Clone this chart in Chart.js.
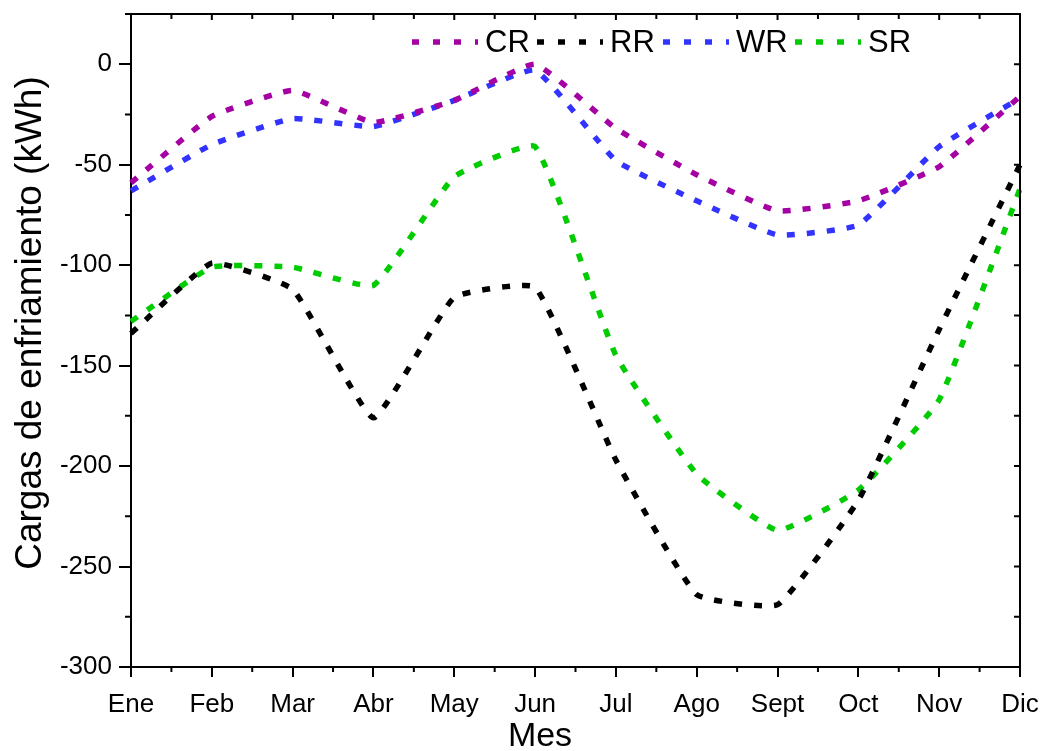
<!DOCTYPE html>
<html>
<head>
<meta charset="utf-8">
<script src="https://cdn.jsdelivr.net/npm/chart.js@4"></script>
<style>
  html, body { margin: 0; padding: 0; background: #fff; }
  #wrap { width: 1043px; height: 751px; }
</style>
</head>
<body>
<div id="wrap"><canvas id="chart" width="1043" height="751"></canvas></div>
<script>
// month labels
const meses = ['Ene', 'Feb', 'Mar', 'Abr', 'May', 'Jun', 'Jul', 'Ago', 'Sept', 'Oct', 'Nov', 'Dic'];

// cooling loads (kWh)
const crValues = [-59, -26, -13, -29, -18, 0, -32, -55, -73, -68, -51, -16];
const rrValues = [-134, -99, -112, -176, -116, -111, -197, -264, -269, -217, -132, -50];
const wrValues = [-63, -40, -27, -31, -18, -3, -48, -68, -85, -80, -41, -17];
const srValues = [-128, -101, -101, -110, -56, -41, -145, -204, -232, -212, -167, -62];

const yTicks = [-300, -250, -200, -150, -100, -50, 0];

const FONT = "'Liberation Sans', Arial, sans-serif";

function serie(label, data, color) {
  return {
    label, data,
    borderColor: color,
    backgroundColor: color,
    borderWidth: 5.5,
    borderDash: [8, 12],
    borderCapStyle: 'butt',
    pointRadius: 0,
    tension: 0.12,
    fill: false
  };
}

// frame, mirror ticks, minor ticks and axis titles
const frame = {
  id: 'frame',
  afterDraw(chart) {
    const { ctx, chartArea: a, scales } = chart;
    const x = scales.x, y = scales.y;
    ctx.save();
    ctx.strokeStyle = '#000';
    ctx.lineWidth = 2;
    ctx.beginPath();
    ctx.moveTo(a.left, a.top);
    ctx.lineTo(a.right, a.top);
    ctx.lineTo(a.right, a.bottom);
    ctx.stroke();

    ctx.beginPath();
    for (let v = 25; v >= -300; v -= 25) {
      const py = y.getPixelForValue(v);
      if (v % 50 !== 0) {
        ctx.moveTo(a.left - 6, py);
        ctx.lineTo(a.left, py);
      }
      ctx.moveTo(a.right, py);
      ctx.lineTo(a.right - 6, py);
    }
    for (let i = 0; i < meses.length; i++) {
      const px = x.getPixelForValue(i);
      ctx.moveTo(px, a.top);
      ctx.lineTo(px, a.top + 6);
      if (i < meses.length - 1) {
        const mx = (px + x.getPixelForValue(i + 1)) / 2;
        ctx.moveTo(mx, a.top);
        ctx.lineTo(mx, a.top + 5);
        ctx.moveTo(mx, a.bottom);
        ctx.lineTo(mx, a.bottom + 5);
      }
    }
    ctx.stroke();

    ctx.fillStyle = '#000';
    ctx.textAlign = 'center';
    ctx.textBaseline = 'middle';
    ctx.font = '34px ' + FONT;
    ctx.fillText('Mes', 540, 737);
    ctx.translate(31, 323);
    ctx.rotate(-Math.PI / 2);
    ctx.font = '37px ' + FONT;
    ctx.fillText('Cargas de enfriamiento (kWh)', 0, 0);
    ctx.restore();
  }
};

// legend drawn inside the plot, top right
const legendInside = {
  id: 'legendInside',
  afterDraw(chart) {
    const { ctx, chartArea: a } = chart;
    const starts = [412, 537, 663, 795];
    const ly = a.top + 28;
    ctx.save();
    ctx.font = '31px ' + FONT;
    ctx.textBaseline = 'middle';
    chart.data.datasets.forEach((ds, i) => {
      const x0 = starts[i];
      ctx.strokeStyle = ds.borderColor;
      ctx.lineWidth = 5.5;
      ctx.setLineDash([7, 14]);
      ctx.beginPath();
      ctx.moveTo(x0, ly);
      ctx.lineTo(x0 + 66, ly);
      ctx.stroke();
      ctx.setLineDash([]);
      ctx.fillStyle = '#000';
      ctx.fillText(ds.label, x0 + 73, ly + 1);
    });
    ctx.restore();
  }
};

new Chart(document.getElementById('chart'), {
  type: 'line',
  data: {
    labels: meses,
    datasets: [
      serie('CR', crValues, '#A400A4'),
      serie('RR', rrValues, '#000000'),
      serie('WR', wrValues, '#3333FF'),
      serie('SR', srValues, '#00CC00')
    ]
  },
  options: {
    responsive: false,
    animation: false,
    layout: { padding: { top: 14, right: 23, left: 0, bottom: 0 } },
    plugins: {
      legend: { display: false },
      tooltip: { enabled: false }
    },
    scales: {
      x: {
        offset: false,
        grid: { drawOnChartArea: false, tickLength: 10, color: '#000', lineWidth: 2 },
        border: { color: '#000', width: 2 },
        ticks: { color: '#000', font: { family: FONT, size: 26 }, padding: 12, maxRotation: 0, autoSkip: false },
        afterFit(s) { s.height = 84; s.paddingLeft = 0; s.paddingRight = 0; }
      },
      y: {
        min: -300,
        max: 25,
        afterBuildTicks(s) { s.ticks = yTicks.map(v => ({ value: v })); },
        grid: { drawOnChartArea: false, tickLength: 12, color: '#000', lineWidth: 2 },
        border: { color: '#000', width: 2 },
        ticks: { color: '#000', font: { family: FONT, size: 26 }, padding: 7 },
        afterFit(s) { s.width = 131; s.paddingTop = 0; s.paddingBottom = 0; }
      }
    }
  },
  plugins: [frame, legendInside]
});
</script>
</body>
</html>
